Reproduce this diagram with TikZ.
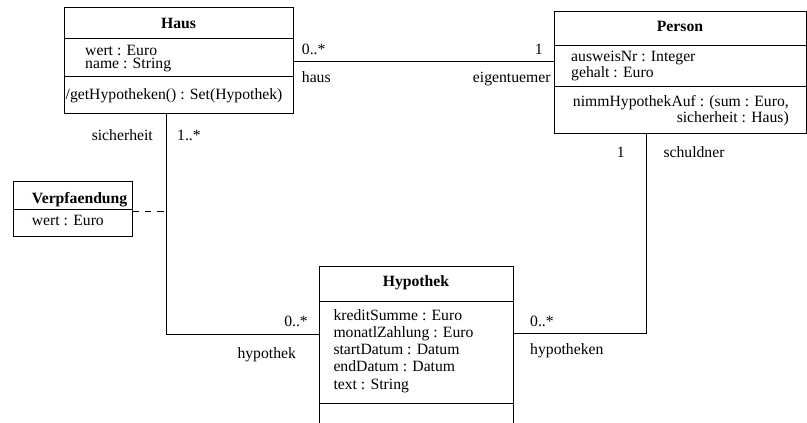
\documentclass[tikz,border=0pt]{standalone}
\usepackage{fontspec}
\setmainfont{Liberation Serif}
\newcommand{\umlsize}{\fontsize{15.7}{17}\selectfont}
\begin{document}
\begin{tikzpicture}[x=1pt, y=-1pt,
  cls/.style={draw, line width=1pt, inner sep=0pt, outer sep=0pt, anchor=north west},
  sep/.style={line width=1pt},
  assoc/.style={line width=1pt},
  txt/.style={inner sep=0pt, anchor=base west, font=\umlsize},
  txtr/.style={inner sep=0pt, anchor=base east, font=\umlsize},
  title/.style={inner sep=0pt, anchor=base, font=\umlsize\bfseries}
]
\clip (0,0) rectangle (807,423);

% class boxes
\node[cls, minimum width=229pt, minimum height=105.5pt] (haus) at (64,7.5) {};
\node[cls, minimum width=252pt, minimum height=121.3pt] (person) at (554,11.7) {};
\node[cls, minimum width=119.3pt, minimum height=54.3pt] (verpf) at (13,181.7) {};
\node[cls, minimum width=194pt, minimum height=180pt] (hypothek) at (319,266.7) {};

% compartment separators
\draw[sep] ([yshift=-30.5pt]haus.north west) -- ([yshift=-30.5pt]haus.north east);
\draw[sep] ([yshift=-68.5pt]haus.north west) -- ([yshift=-68.5pt]haus.north east);
\draw[sep] ([yshift=-33.3pt]person.north west) -- ([yshift=-33.3pt]person.north east);
\draw[sep] ([yshift=-74.3pt]person.north west) -- ([yshift=-74.3pt]person.north east);
\draw[sep] ([yshift=-27.3pt]verpf.north west) -- ([yshift=-27.3pt]verpf.north east);
\draw[sep] ([yshift=-34.3pt]hypothek.north west) -- ([yshift=-34.3pt]hypothek.north east);
\draw[sep] ([yshift=-136.3pt]hypothek.north west) -- ([yshift=-136.3pt]hypothek.north east);

% Haus
\node[title] (hausT) at (178.5,28.3) {Haus};
\node[txt] (hausA1) at (85,55.3) {wert : Euro};
\node[txt] (hausA2) at (85,68.3) {name : String};
\node[txt] (hausM1) at (65.5,99) {/getHypotheken() : Set(Hypothek)};

% Person
\node[title] (personT) at (680,31.5) {Person};
\node[txt] (personA1) at (571,61.7) {ausweisNr : Integer};
\node[txt] (personA2) at (571,77.3) {gehalt : Euro};
\node[txtr] (personM1) at (789,106) {nimmHypothekAuf : (sum : Euro,};
\node[txtr] (personM2) at (789,122.7) {sicherheit : Haus)};

% Verpfaendung
\node[title, anchor=base west] (verpfT) at (31.7,203.3) {Verpfaendung};
\node[txt] (verpfA1) at (31.7,225) {wert : Euro};

% Hypothek
\node[title] (hypT) at (416,286.7) {Hypothek};
\node[txt] (hypA1) at (333.3,320.7) {kreditSumme : Euro};
\node[txt] (hypA2) at (333.3,337.5) {monatlZahlung : Euro};
\node[txt] (hypA3) at (333.3,354.5) {startDatum : Datum};
\node[txt] (hypA4) at (333.3,371.7) {endDatum : Datum};
\node[txt] (hypA5) at (333.3,389) {text : String};

% connector end points
\coordinate (own) at ([yshift=-54.2pt]haus.north east);
\coordinate (secTop) at ([xshift=102.7pt]haus.south west);
\coordinate (hypL) at ([yshift=-67.3pt]hypothek.north west);
\coordinate (debTop) at ([xshift=92.7pt]person.south west);
\coordinate (hypR) at ([yshift=-66.8pt]hypothek.north east);
\coordinate (assocClass) at ([yshift=-30pt]verpf.north east);

% associations
\draw[assoc] (own) -- (own -| person.west);
\draw[assoc] (secTop) |- (hypL);
\draw[assoc] (debTop) |- (hypR);
\draw[line width=1pt, dash pattern=on 6.5pt off 6pt] (assocClass) -- (assocClass -| secTop);

% role names and multiplicities
\node[txt] (m1) at (301.7,54.5) {0..*};
\node[txt] (r1) at (301.7,82.7) {haus};
\node[txtr] (m2) at (543,54.5) {1};
\node[txtr] (r2) at (550.7,82.7) {eigentuemer};

\node[txtr] (r3) at (153,140) {sicherheit};
\node[txt] (m3) at (177,140) {1..*};
\node[txtr] (m4) at (308,326.7) {0..*};
\node[txt] (r4) at (237.3,358.3) {hypothek};

\node[txtr] (m5) at (625,157) {1};
\node[txt] (r5) at (663.3,157) {schuldner};
\node[txt] (m6) at (530,326.7) {0..*};
\node[txt] (r6) at (530,354) {hypotheken};
\end{tikzpicture}
\end{document}
